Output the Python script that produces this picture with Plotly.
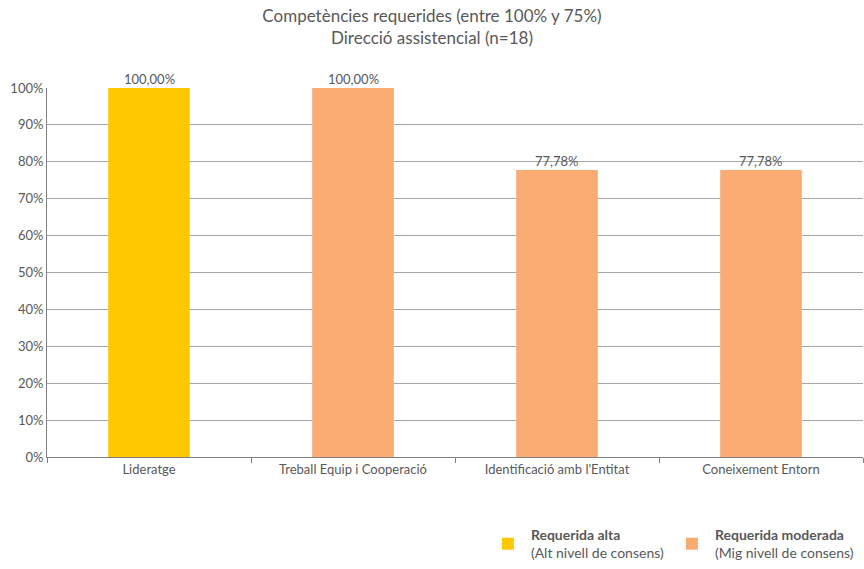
import plotly.graph_objects as go

categories = ["Lideratge", "Treball Equip i Cooperació", "Identificació amb l'Entitat", "Coneixement Entorn"]
values = [1.0, 1.0, 0.7778, 0.7778]
groups = ["alta", "moderada", "moderada", "moderada"]
series_names = {
    "alta": "<b>Requerida alta</b><br>(Alt nivell de consens)",
    "moderada": "<b>Requerida moderada</b><br>(Mig nivell de consens)",
}
colors = {"alta": "#FFC800", "moderada": "#F9AB72"}
ytick_vals = [i / 10 for i in range(11)]
ytick_text = [f"{i*10}%" for i in range(11)]

font_family = "Lato, sans-serif"
txt_color = "#595959"

fig = go.Figure()
for g in ["alta", "moderada"]:
    xs = [c for c, gg in zip(categories, groups) if gg == g]
    ys = [v for v, gg in zip(values, groups) if gg == g]
    fig.add_trace(go.Bar(
        x=xs, y=ys, name=series_names[g],
        marker=dict(color=colors[g], line=dict(width=0)),
        width=0.4,
        cliponaxis=False,
    ))

for c, v in zip(categories, values):
    label = f"{v*100:.2f}".replace(".", ",") + "%"
    fig.add_annotation(
        x=c, y=v, xref="x", yref="y", text=label, showarrow=False,
        yanchor="bottom", yshift=-1,
        font=dict(size=13, color=txt_color, family=font_family),
    )

fig.update_layout(
    width=864, height=569,
    margin=dict(l=47, r=1, t=88, b=112, autoexpand=False),
    paper_bgcolor="white", plot_bgcolor="white",
    separators=",.",
    barmode="overlay",
    title=dict(
        text="Competències requerides (entre 100% y 75%)<br>Direcció assistencial (n=18)",
        x=0.5, xref="container", xanchor="center",
        y=0.962, yanchor="top",
        font=dict(size=17, color=txt_color, family=font_family),
    ),
    font=dict(family=font_family, color=txt_color),
    showlegend=True,
    legend=dict(
        orientation="h", x=0.995, xanchor="right",
        yref="container", y=0.0, yanchor="bottom",
        font=dict(size=14, color=txt_color, family=font_family),
        itemsizing="constant", traceorder="normal",
        bgcolor="rgba(0,0,0,0)", itemwidth=36,
    ),
    xaxis=dict(
        categoryorder="array", categoryarray=categories,
        showline=True, linecolor="#808080", linewidth=1,
        ticks="outside", tickson="boundaries", ticklen=5, tickcolor="#808080",
        tickfont=dict(size=13, color=txt_color),
        showgrid=False,
    ),
    yaxis=dict(
        range=[0, 1], tickvals=ytick_vals, ticktext=ytick_text,
        showline=True, linecolor="#808080", linewidth=1,
        showgrid=True, gridcolor="#A6A6A6", gridwidth=1,
        tickfont=dict(size=13, color=txt_color),
        zeroline=False,
    ),
)

fig.write_html("out.html")
